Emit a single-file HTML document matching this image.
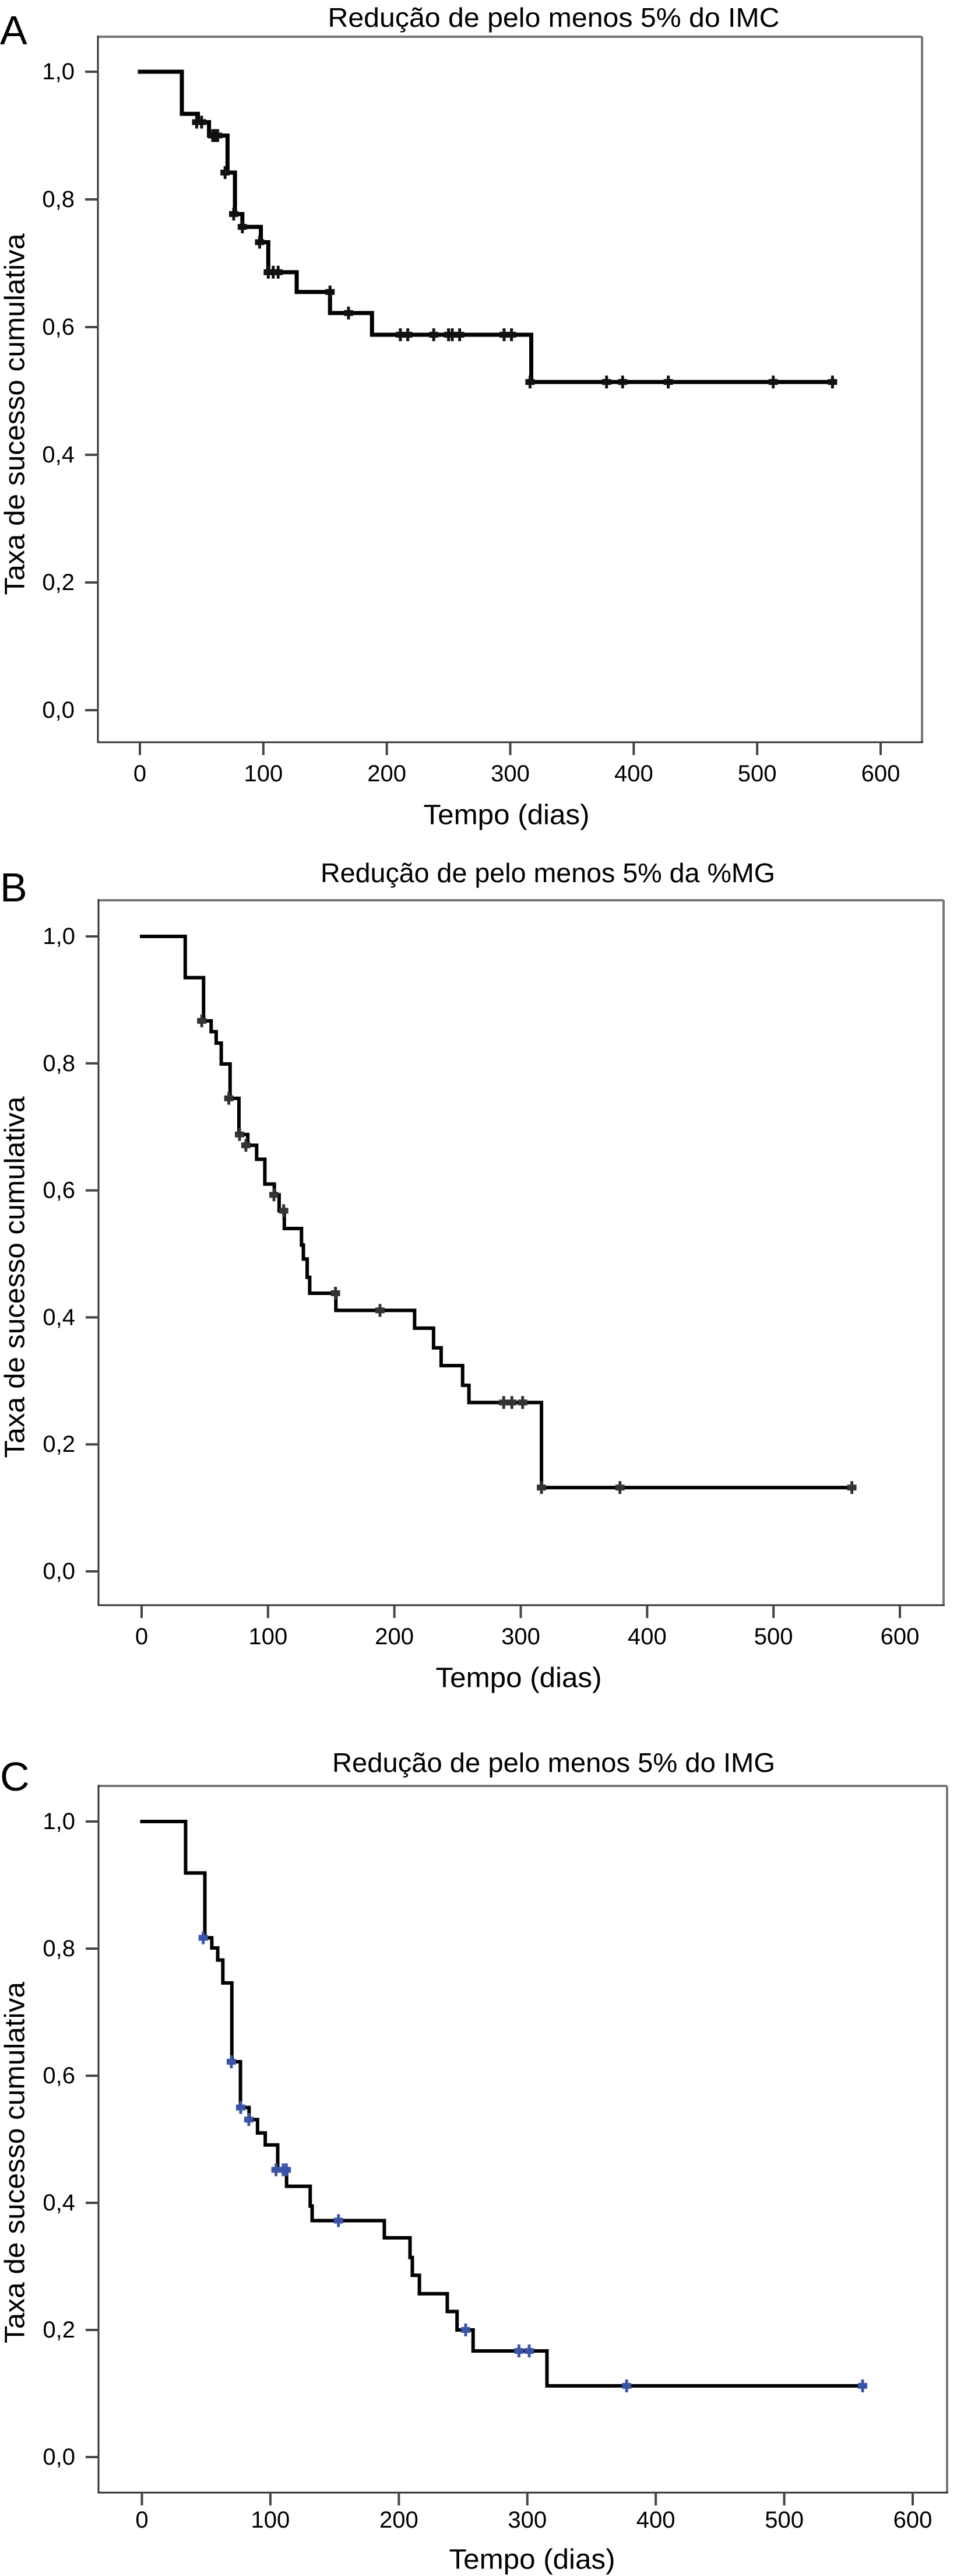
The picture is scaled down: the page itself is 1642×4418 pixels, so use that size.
<!DOCTYPE html>
<html><head><meta charset="utf-8">
<style>
html,body{margin:0;padding:0;background:#fff;}
svg{display:block;}
text{font-family:"Liberation Sans",Arial,sans-serif;fill:#000;}
</style></head>
<body>
<svg id="fig" width="1642" height="4418" viewBox="0 0 1642 4418" xmlns="http://www.w3.org/2000/svg"></svg>
<script>
// ---- Panel A data: IMC ----
const aStepDays = [0, 34, 47, 56, 71, 77, 83, 98, 104, 127, 154, 188, 317];
const aStepVals = [1.0, 0.934, 0.921, 0.900, 0.842, 0.777, 0.757, 0.733, 0.686, 0.655, 0.622, 0.588, 0.514];
const aCensorDays = [46, 50, 59, 61, 63, 69, 76, 83, 97, 104, 108, 112, 154, 169, 211, 217, 238, 250, 253, 259, 295, 301, 316, 378, 391, 428, 513, 561];
const aCensorVals = [0.921, 0.921, 0.900, 0.900, 0.900, 0.842, 0.777, 0.757, 0.733, 0.686, 0.686, 0.686, 0.655, 0.622, 0.588, 0.588, 0.588, 0.588, 0.588, 0.588, 0.588, 0.588, 0.514, 0.514, 0.514, 0.514, 0.514, 0.514];
const aEndDay = 562;
// ---- Panel B data: %MG ----
const bStepDays = [0, 34.5, 49, 55, 59, 63, 70, 77, 84, 91, 97.5, 105, 108.8, 112.9, 126.5, 128, 131, 133, 153.7, 216, 231, 237, 254, 259, 316.4];
const bStepVals = [1.0, 0.935, 0.867, 0.850, 0.832, 0.799, 0.745, 0.688, 0.671, 0.649, 0.610, 0.593, 0.568, 0.540, 0.514, 0.492, 0.463, 0.438, 0.411, 0.383, 0.352, 0.324, 0.293, 0.266, 0.132];
const bCensorDays = [47.6, 69, 77.5, 82.5, 104.7, 112.4, 153.4, 188.6, 286.5, 293, 301.5, 316.4, 378.5, 562];
const bCensorVals = [0.867, 0.745, 0.688, 0.671, 0.593, 0.568, 0.438, 0.411, 0.266, 0.266, 0.266, 0.132, 0.132, 0.132];
const bEndDay = 562;
// ---- Panel C data: IMG ----
const cStepDays = [0, 34, 49, 54.4, 59, 63, 70, 76.7, 83.4, 90, 96, 105.7, 112.6, 131, 132.5, 188.7, 208.7, 210.5, 216, 237.7, 245.3, 257.8, 315.3];
const cStepVals = [1.0, 0.919, 0.817, 0.801, 0.782, 0.746, 0.622, 0.550, 0.531, 0.510, 0.491, 0.452, 0.426, 0.395, 0.372, 0.345, 0.314, 0.286, 0.257, 0.229, 0.200, 0.167, 0.112];
const cCensorDays = [47.7, 69.6, 76.9, 83.2, 104.4, 110, 112.4, 153, 252, 293.5, 301.5, 377.3, 561];
const cCensorVals = [0.817, 0.622, 0.550, 0.531, 0.452, 0.452, 0.452, 0.372, 0.200, 0.167, 0.167, 0.112, 0.112];
const cEndDay = 562;
// ---- axis tick labels ----
const xTickVals = [0, 100, 200, 300, 400, 500, 600];
const yTickVals = [0, 0.2, 0.4, 0.6, 0.8, 1.0];
const yTickLabels = ["0,0", "0,2", "0,4", "0,6", "0,8", "1,0"];

const NS = "http://www.w3.org/2000/svg";
const svg = document.getElementById("fig");
function mk(tag, attrs, parent) {
  const e = document.createElementNS(NS, tag);
  for (const k in attrs) e.setAttribute(k, attrs[k]);
  (parent || svg).appendChild(e);
  return e;
}
function drawPanel(p) {
  const g = mk("g", {});
  
  
  const sx = d => p.x0 + (p.x600 - p.x0) * d / 600;
  const sy = v => p.y0 + (p.y1 - p.y0) * v;
  const bx = p.box;
  const top = mk("line", {x1: bx.l, y1: bx.t, x2: bx.r, y2: bx.t, stroke: "#777", "stroke-width": 4}, g);
  
  
  const right = mk("line", {x1: bx.r, y1: bx.t, x2: bx.r, y2: bx.b, stroke: "#777", "stroke-width": 4}, g);
  
  
  const yax = mk("line", {x1: bx.l, y1: bx.t - 2, x2: bx.l, y2: bx.b + 1, stroke: "#333", "stroke-width": 3}, g);
  
  
  const xax = mk("line", {x1: bx.l - 1, y1: bx.b, x2: bx.r + 2, y2: bx.b, stroke: "#333", "stroke-width": 3}, g);
  
  
  xTickVals.forEach(v => {
    const t = mk("line", {x1: sx(v), y1: bx.b, x2: sx(v), y2: bx.b + 22, stroke: "#444", "stroke-width": 4}, g);
    
    
    const l = mk("text", {x: sx(v), y: p.xLabY, "font-size": 40, "text-anchor": "middle", "dominant-baseline": "central"}, g);
    l.textContent = String(v);
    
    
  });
  yTickVals.forEach((v, i) => {
    const t = mk("line", {x1: bx.l - 22, y1: sy(v), x2: bx.l, y2: sy(v), stroke: "#444", "stroke-width": 4}, g);
    
    
    const l = mk("text", {x: bx.l - 40, y: sy(v), "font-size": 40, "text-anchor": "end", "dominant-baseline": "central"}, g);
    l.textContent = yTickLabels[i];
    
    
  });
  const ti = mk("text", {x: p.titleX, y: p.titleY, "font-size": 46, "text-anchor": "middle", "dominant-baseline": "central", textLength: p.titleLen, lengthAdjust: "spacingAndGlyphs"}, g);
  ti.textContent = p.title;
  
  
  const pl = mk("text", {x: 0, y: p.letterY, "font-size": 70, "dominant-baseline": "central"}, g);
  pl.textContent = p.letter;
  
  
  const xt = mk("text", {x: p.xTitleX, y: p.xTitleY, "font-size": 48, "text-anchor": "middle", "dominant-baseline": "central", textLength: 285, lengthAdjust: "spacingAndGlyphs"}, g);
  xt.textContent = "Tempo (dias)";
  
  
  const ymid = (sy(0) + sy(1)) / 2 + 40;
  const yt = mk("text", {x: 0, y: 0, "font-size": 48, "text-anchor": "middle", "dominant-baseline": "central", textLength: 620, lengthAdjust: "spacingAndGlyphs", transform: "translate(26," + ymid + ") rotate(-90)"}, g);
  yt.textContent = "Taxa de sucesso cumulativa";
  
  
  let d = "M" + sx(p.days[0]) + "," + sy(p.vals[0]);
  for (let i = 1; i < p.days.length; i++) {
    d += " H" + sx(p.days[i]) + " V" + sy(p.vals[i]);
  }
  d += " H" + sx(p.end);
  const c = mk("path", {d: d, fill: "none", stroke: "#000", "stroke-width": p.lw, "stroke-linejoin": "miter", "stroke-linecap": "square"}, g);
  
  
  p.censor.forEach((t, i) => {
    const cx = sx(t), cy = sy(p.censorVals[i]);
    const m = mk("g", {}, g);
    
    
    mk("line", {x1: cx, y1: cy - 11, x2: cx, y2: cy + 11, stroke: p.cColor, "stroke-width": 5}, m);
    mk("line", {x1: cx - 8, y1: cy, x2: cx + 8, y2: cy, stroke: p.cColor, "stroke-width": 10}, m);
  });
}
drawPanel({key: "a", letter: "A", letterY: 52, title: "Redução de pelo menos 5% do IMC", titleX: 950, titleY: 30, titleLen: 775,
  box: {l: 168, t: 63, r: 1582, b: 1273}, x0: 240, x600: 1511, y1: 123, y0: 1218,
  xLabY: 1327, xTitleX: 869, xTitleY: 1398, days: aStepDays, vals: aStepVals, censor: aCensorDays, censorVals: aCensorVals, end: aEndDay, lw: 7, cColor: "#111"});
drawPanel({key: "b", letter: "B", letterY: 1522, title: "Redução de pelo menos 5% da %MG", titleX: 940, titleY: 1497, titleLen: 780,
  box: {l: 169, t: 1544, r: 1619, b: 2753}, x0: 243, x600: 1544, y1: 1606, y0: 2695,
  xLabY: 2807, xTitleX: 890, xTitleY: 2878, days: bStepDays, vals: bStepVals, censor: bCensorDays, censorVals: bCensorVals, end: bEndDay, lw: 6, cColor: "#333"});
drawPanel({key: "c", letter: "C", letterY: 3047, title: "Redução de pelo menos 5% do IMG", titleX: 950, titleY: 3023, titleLen: 760,
  box: {l: 169, t: 3063, r: 1625, b: 4275}, x0: 243.5, x600: 1566, y1: 3124, y0: 4214,
  xLabY: 4322, xTitleX: 913, xTitleY: 4390, days: cStepDays, vals: cStepVals, censor: cCensorDays, censorVals: cCensorVals, end: cEndDay, lw: 6, cColor: "#3a55a8"});
</script>
</body></html>
